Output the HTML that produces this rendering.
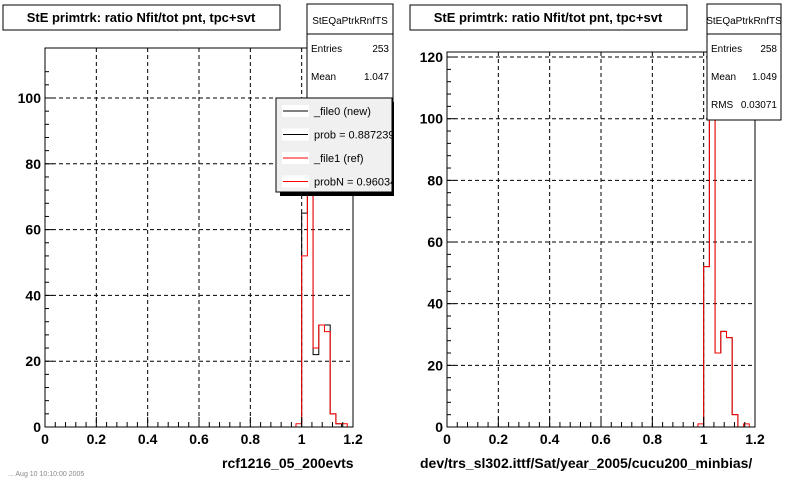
<!DOCTYPE html>
<html><head><meta charset="utf-8"><style>
body{margin:0;background:#fff;}
svg{display:block;font-family:"Liberation Sans",Arial,sans-serif;}
</style></head><body>
<svg id="c" width="800" height="480" viewBox="0 0 800 480"></svg>
<script>
const binWidth = 1.2/54;
const binStart = [44,45,46,47,48,49,50,51,52];
const leftRed   = [1,52,130,24,31,29,4,1,1];
const leftBlack = [0,65,130,22,31,31,4,1,0];
const rightRed  = [1,52,140,24,31,29,4,0,1];
const rightBlack= [0,52,140,24,31,29,4,0,0];
const xTicks = [0,0.2,0.4,0.6,0.8,1,1.2];
const xTickLabels = ["0","0.2","0.4","0.6","0.8","1","1.2"];
const leftYTicks = [0,20,40,60,80,100];
const rightYTicks = [0,20,40,60,80,100,120];

const svg=document.getElementById('c');
const NS='http://www.w3.org/2000/svg';
function mk(t,a,p){const e=document.createElementNS(NS,t);for(const k in a)e.setAttribute(k,a[k]);(p||svg).appendChild(e);return e;}

function panel(o){
  const g=mk('g',{});
  
  
  const X=v=>o.x0+(v/1.2)*(o.x1-o.x0);
  const Y=v=>Math.max(o.yt,o.yb-v*o.ppu);
  mk('rect',{x:o.x0,y:o.yt,width:o.x1-o.x0,height:o.yb-o.yt,fill:'#fff'},g);
  // grid
  xTicks.forEach(t=>{if(t>0&&t<1.2){const l=mk('line',{x1:X(t),x2:X(t),y1:o.yt,y2:o.yb,stroke:'#000','stroke-dasharray':'4,3'},g);
    }});
  o.yTicks.forEach(t=>{if(t>0){const l=mk('line',{x1:o.x0,x2:o.x1,y1:Y(t),y2:Y(t),stroke:'#000','stroke-dasharray':'4,3'},g);
    }});
  // histograms
  function hist(vals,col,nm){
    let d='M'+o.x0+','+o.yb+' L'+X(binStart[0]*binWidth)+','+o.yb;
    vals.forEach((v,i)=>{const a=X(binStart[i]*binWidth),b=X((binStart[i]+1)*binWidth);d+=' L'+a+','+Y(v)+' L'+b+','+Y(v);});
    d+=' L'+X((binStart[binStart.length-1]+1)*binWidth)+','+o.yb+' L'+o.x1+','+o.yb;
    const p=mk('path',{d:d,fill:'none',stroke:col,'stroke-width':1},g);
    
  }
  hist(o.black,'#000','histogram-new');
  hist(o.red,'#f00','histogram-ref');
  mk('rect',{x:o.x0,y:o.yt,width:o.x1-o.x0,height:o.yb-o.yt,fill:'none',stroke:'#000'},g);
  // x ticks
  for(let i=0;i<=30;i++){const v=i*0.04;const big=i%5==0;mk('line',{x1:X(v),x2:X(v),y1:o.yb,y2:o.yb-(big?10:5),stroke:'#000'},g);}
  xTicks.forEach((t,i)=>{const e=mk('text',{x:X(t),y:o.yb+17,'text-anchor':'middle','font-size':14,'font-weight':'bold'},g);e.textContent=xTickLabels[i];
    });
  for(let v=0;v<=o.yTicks[o.yTicks.length-1]+10;v+=4){const y=o.yb-v*o.ppu;if(y<o.yt)break;mk('line',{x1:o.x0,x2:o.x0+(v%20==0?8:4),y1:y,y2:y,stroke:'#000'},g);}
  o.yTicks.forEach(t=>{const e=mk('text',{x:o.x0-4,y:Y(t)+5,'text-anchor':'end','font-size':14,'font-weight':'bold'},g);e.textContent=t;
    });
  const xl=mk('text',{x:o.xlx,y:468,'font-size':14,'font-weight':'bold'},g);xl.textContent=o.xlabel;
  
  // title
  mk('rect',{x:o.tx,y:5,width:277,height:25,fill:'#fff',stroke:'#000'},g);
  const tt=mk('text',{x:o.tx+138,y:22,'text-anchor':'middle','font-size':13,'font-weight':'bold'},g);tt.textContent='StE primtrk: ratio Nfit/tot pnt, tpc+svt';
  
  return g;
}
function stats(x,w,h,rows){
  const g=mk('g',{});
  
  mk('rect',{x:x,y:4,width:w,height:h,fill:'#fff',stroke:'#000'},g);
  mk('line',{x1:x,x2:x+w,y1:34,y2:34,stroke:'#000'},g);
  const t=mk('text',{x:x+w/2,y:24,'text-anchor':'middle','font-size':10},g);t.textContent='StEQaPtrkRnfTS';
  rows.forEach((r,i)=>{const a=mk('text',{x:x+4,y:52+i*28,'font-size':10},g);a.textContent=r[0];
    const b=mk('text',{x:x+w-4,y:52+i*28,'text-anchor':'end','font-size':10},g);b.textContent=r[1];});
}
panel({name:'left-panel',x0:45,x1:353,yt:48,yb:427,ppu:3.29,yTicks:leftYTicks,red:leftRed,black:leftBlack,xlabel:'rcf1216_05_200evts',xlx:222,tx:3});
stats(307,86,100,[['Entries','253'],['Mean','1.047']]);
panel({name:'right-panel',x0:447,x1:755,yt:52,yb:427,ppu:3.083,yTicks:rightYTicks,red:rightRed,black:rightBlack,xlabel:'dev/trs_sl302.ittf/Sat/year_2005/cucu200_minbias/',xlx:420,tx:410});
stats(707,74,116,[['Entries','258'],['Mean','1.049'],['RMS','0.03071']]);
// legend
const lg=mk('g',{});
mk('rect',{x:280,y:102,width:114,height:94,fill:'#000'},lg);
mk('rect',{x:276,y:98,width:116,height:94,fill:'#f0f0f0',stroke:'#000'},lg);
const items=[['_file0 (new)','#000'],['prob = 0.887239','#000'],['_file1 (ref)','#f00'],['probN = 0.960341','#f00']];
const cl=mk('clipPath',{id:'lc'});mk('rect',{x:276,y:98,width:116,height:94},cl);
items.forEach((it,i)=>{const y=111+i*23.5;
  const e=mk('g',{'clip-path':'url(#lc)'},lg);
  mk('rect',{x:282,y:y-6,width:27,height:12,fill:'#fff'},e);
  mk('line',{x1:283,x2:308,y1:y,y2:y,stroke:it[1]},e);
  const t=mk('text',{x:314,y:y+4,'font-size':11},e);t.textContent=it[0];});
const ft=mk('text',{x:8,y:476,'font-size':7,fill:'#888'});ft.textContent='... Aug 10 10:10:00 2005';

</script>
</body></html>
